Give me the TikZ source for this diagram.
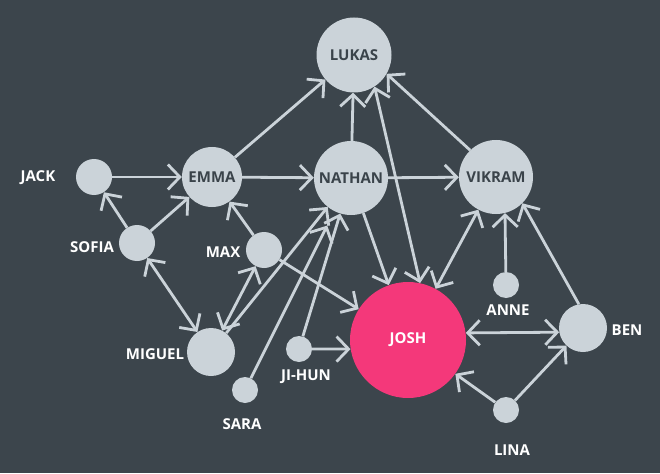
\documentclass[tikz,border=0pt]{standalone}
\usepackage{fontspec}
\setmainfont{Open Sans}
\usetikzlibrary{arrows.meta}
\definecolor{bg}{HTML}{3C454C}
\definecolor{nodegray}{HTML}{CBD3D9}
\definecolor{joshpink}{HTML}{F4387A}
\definecolor{darktext}{HTML}{3A434A}
\tikzset{
  person/.style={circle, fill=nodegray, inner sep=0pt, font=\fontsize{15}{15}\selectfont\bfseries, text=darktext},
  hub/.style={person, fill=joshpink, text=white},
  lbl/.style={font=\fontsize{15}{15}\selectfont\bfseries, text=white, inner sep=0pt},
  arr/.style={draw=nodegray, line width=2.8pt, -{Straight Barb[length=12pt,width=25pt]}},
  biarr/.style={draw=nodegray, line width=2.8pt, {Straight Barb[length=12pt,width=25pt]}-{Straight Barb[length=12pt,width=25pt]}}
}
\begin{document}
\begin{tikzpicture}[x=1pt,y=-1pt]
\fill[bg] (0,0) rectangle (660,473);
\useasboundingbox (0,0) rectangle (660,473);
% nodes
\node[person, minimum size=75pt] (LUKAS) at (354,55) {LUKAS};
\node[person, minimum size=74pt] (NATHAN) at (351,178) {NATHAN};
\node[person, minimum size=74pt] (VIKRAM) at (496,177) {VIKRAM};
\node[person, minimum size=60pt] (EMMA) at (212,177) {EMMA};
\node[person, minimum size=36pt] (JACK) at (94,177) {};
\node[person, minimum size=36pt] (SOFIA) at (137,243) {};
\node[person, minimum size=36pt] (MAX) at (264,250) {};
\node[person, minimum size=48pt] (MIGUEL) at (211,352) {};
\node[person, minimum size=26pt] (SARA) at (245,390) {};
\node[person, minimum size=26pt] (JIHUN) at (299,349) {};
\node[hub, minimum size=116pt] (JOSH) at (408,340) {JOSH};
\node[person, minimum size=26pt] (ANNE) at (506,285) {};
\node[person, minimum size=48pt] (BEN) at (583,328) {};
\node[person, minimum size=26pt] (LINA) at (506,410) {};
% labels
\node[lbl] (lJACK) at (38,178) {JACK};
\node[lbl] (lSOFIA) at (92,247) {SOFIA};
\node[lbl] (lMAX) at (223,252) {MAX};
\node[lbl] (lMIGUEL) at (155,354) {MIGUEL};
\node[lbl] (lSARA) at (242,424) {SARA};
\node[lbl] (lJIHUN) at (306,377) {JI-HUN};
\node[lbl] (lANNE) at (508,310) {ANNE};
\node[lbl] (lBEN) at (627,330) {BEN};
\node[lbl] (lLINA) at (512,450) {LINA};
% edges
\draw[arr] (JACK) -- (EMMA);
\draw[arr] (SOFIA) -- (JACK);
\draw[arr] (SOFIA) -- (EMMA);
\draw[biarr] (SOFIA) -- (MIGUEL);
\draw[arr] (MAX) -- (EMMA);
\draw[arr] (MAX) -- (JOSH);
\draw[biarr] (MAX) -- (MIGUEL);
\draw[arr] (MIGUEL) -- (NATHAN);
\draw[arr, shorten >=16pt] (SARA) -- (NATHAN);
\draw[arr] (JIHUN) -- (NATHAN);
\draw[arr] (JIHUN) -- (JOSH.189);
\draw[arr] (EMMA) -- (NATHAN);
\draw[arr] (EMMA) -- (LUKAS);
\draw[arr] (NATHAN) -- (LUKAS);
\draw[arr] (NATHAN) -- (VIKRAM);
\draw[arr] (NATHAN) -- (JOSH);
\draw[biarr] (LUKAS.-57) -- (JOSH.78);
\draw[arr] (VIKRAM.134) -- (LUKAS.-30);
\draw[biarr] (VIKRAM) -- (JOSH);
\draw[arr] (ANNE) -- (VIKRAM.-76);
\draw[arr] (BEN.100) -- (VIKRAM.-45);
\draw[biarr] (JOSH.7) -- (BEN.190);
\draw[arr] (LINA) -- (JOSH);
\draw[arr] (LINA) -- (BEN);
\end{tikzpicture}
\end{document}
